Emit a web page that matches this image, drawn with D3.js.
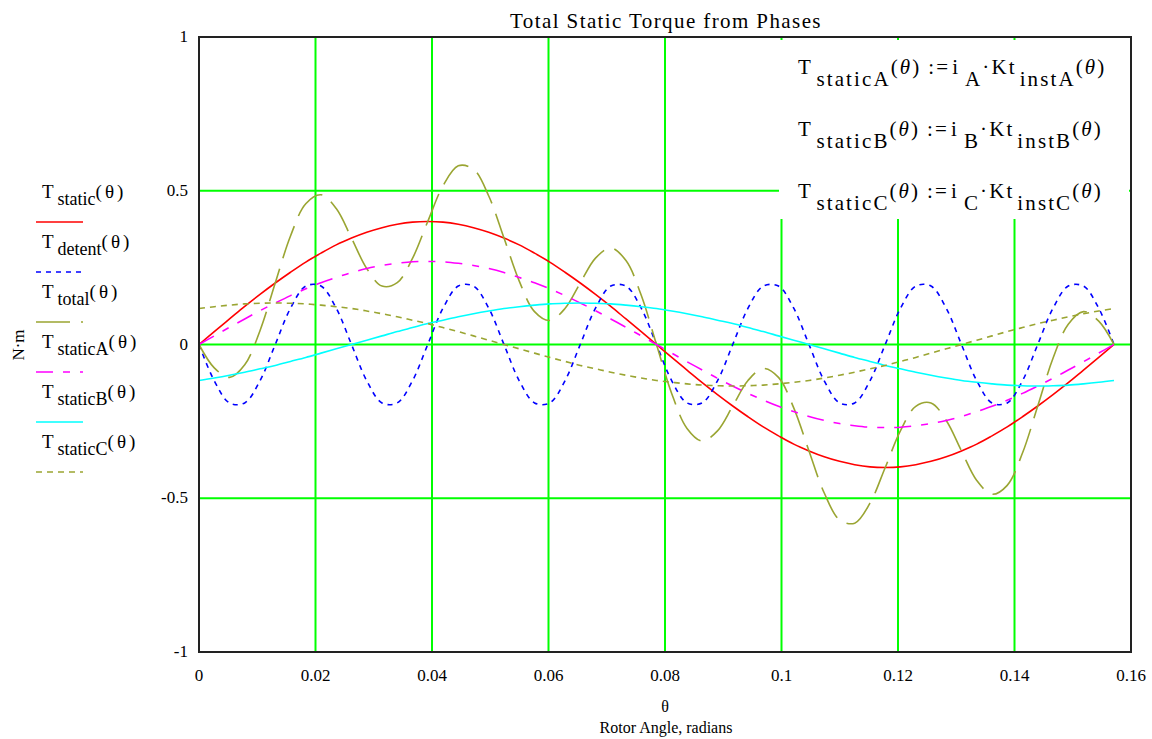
<!DOCTYPE html>
<html>
<head>
<meta charset="utf-8">
<script src="https://d3js.org/d3.v7.min.js"></script>
<style>
  body { margin: 0; background: #fff; }
  text { font-family: "Liberation Serif", "Times New Roman", serif; fill: #000; }
</style>
</head>
<body>
<div id="vis"></div>
<script>
  // rotor angle samples (radians)
  const theta = [0, 0.00262, 0.00524, 0.00785, 0.01047, 0.01309, 0.01571, 0.01833, 0.02094, 0.02356,
    0.02618, 0.0288, 0.03142, 0.03403, 0.03665, 0.03927, 0.04189, 0.04451, 0.04712, 0.04974,
    0.05236, 0.05498, 0.0576, 0.06021, 0.06283, 0.06545, 0.06807, 0.07069, 0.0733, 0.07592,
    0.07854, 0.08116, 0.08378, 0.08639, 0.08901, 0.09163, 0.09425, 0.09687, 0.09948, 0.1021,
    0.10472, 0.10734, 0.10996, 0.11257, 0.11519, 0.11781, 0.12043, 0.12305, 0.12566, 0.12828,
    0.1309, 0.13352, 0.13614, 0.13875, 0.14137, 0.14399, 0.14661, 0.14923, 0.15184, 0.15446, 0.15708]

  const tStatic = [0, .042, .083, .124, .163, .2, .235, .268, .297, .324,
    .346, .365, .380, .391, .398, .4, .398, .391, .380, .365,
    .346, .324, .297, .268, .235, .2, .163, .124, .083, .042,
    0, -.042, -.083, -.124, -.163, -.2, -.235, -.268, -.297, -.324,
    -.346, -.365, -.380, -.391, -.398, -.4, -.398, -.391, -.380, -.365,
    -.346, -.324, -.297, -.268, -.235, -.2, -.163, -.124, -.083, -.042, 0]

  const tDetent = [0, -.118, -.190, -.190, -.118, 0, .118, .190, .190, .118,
    0, -.118, -.190, -.190, -.118, 0, .118, .190, .190, .118,
    0, -.118, -.190, -.190, -.118, 0, .118, .190, .190, .118,
    0, -.118, -.190, -.190, -.118, 0, .118, .190, .190, .118,
    0, -.118, -.190, -.190, -.118, 0, .118, .190, .190, .118,
    0, -.118, -.190, -.190, -.118, 0, .118, .190, .190, .118, 0]

  const tTotal = [0, -.076, -.107, -.066, .045, .2, .353, .458, .487, .442,
    .346, .247, .190, .201, .280, .4, .516, .581, .570, .483,
    .346, .206, .107, .078, .117, .2, .281, .314, .273, .160,
    0, -.160, -.273, -.314, -.281, -.2, -.117, -.078, -.107, -.206,
    -.346, -.483, -.570, -.581, -.516, -.4, -.280, -.201, -.190, -.247,
    -.346, -.442, -.487, -.458, -.353, -.2, -.045, .066, .107, .076, 0]

  const tStaticA = [0, .028, .056, .083, .110, .135, .159, .181, .201, .218,
    .234, .247, .257, .264, .269, .27, .269, .264, .257, .247,
    .234, .218, .201, .181, .159, .135, .110, .083, .056, .028,
    0, -.028, -.056, -.083, -.110, -.135, -.159, -.181, -.201, -.218,
    -.234, -.247, -.257, -.264, -.269, -.27, -.269, -.264, -.257, -.247,
    -.234, -.218, -.201, -.181, -.159, -.135, -.110, -.083, -.056, -.028, 0]

  const tStaticB = [-.117, -.109, -.100, -.090, -.079, -.068, -.055, -.042, -.028, -.014,
    0, .014, .028, .042, .055, .068, .079, .090, .100, .109,
    .117, .123, .128, .132, .134, .135, .134, .132, .128, .123,
    .117, .109, .100, .090, .079, .068, .055, .042, .028, .014,
    0, -.014, -.028, -.042, -.055, -.068, -.079, -.090, -.100, -.109,
    -.117, -.123, -.128, -.132, -.134, -.135, -.134, -.132, -.128, -.123, -.117]

  const tStaticC = [.117, .123, .128, .132, .134, .135, .134, .132, .128, .123,
    .117, .109, .100, .090, .079, .068, .055, .042, .028, .014,
    0, -.014, -.028, -.042, -.055, -.068, -.079, -.090, -.100, -.109,
    -.117, -.123, -.128, -.132, -.134, -.135, -.134, -.132, -.128, -.123,
    -.117, -.109, -.100, -.090, -.079, -.068, -.055, -.042, -.028, -.014,
    0, .014, .028, .042, .055, .068, .079, .090, .100, .109, .117]

  const xTicks = [0, 0.02, 0.04, 0.06, 0.08, 0.1, 0.12, 0.14, 0.16]
  const yTicks = [-1, -0.5, 0, 0.5, 1]

  const legendNames = ['static', 'detent', 'total', 'staticA', 'staticB', 'staticC']
  const colors = ['#ff0000', '#0000ff', '#9aa532', '#ff00ff', '#00ffff', '#9aa532']
  const dashes = [null, '5,5', '34,11', '17,10,7,10', null, '6,5']
  const seriesList = [tStatic, tDetent, tTotal, tStaticA, tStaticB, tStaticC]

  const formulas = [['staticA', 'A', 'instA'], ['staticB', 'B', 'instB'], ['staticC', 'C', 'instC']]

  var svg = d3.select('#vis')
    .append('svg')
    .attr('width', 1152)
    .attr('height', 739)

  var x = d3.scaleLinear().domain([0, 0.16]).range([199, 1131])
  var y = d3.scaleLinear().domain([-1, 1]).range([652, 37])

  // grid
  svg.selectAll('.vgrid')
    .data(xTicks.slice(1, -1))
    .enter()
    .append('line')
    .attr('x1', d => x(d)).attr('x2', d => x(d))
    .attr('y1', y(1)).attr('y2', y(-1))
    .attr('stroke', '#00ff00').attr('stroke-width', 2)

  svg.selectAll('.hgrid')
    .data(yTicks.slice(1, -1))
    .enter()
    .append('line')
    .attr('x1', x(0)).attr('x2', x(0.16))
    .attr('y1', d => y(d)).attr('y2', d => y(d))
    .attr('stroke', '#00ff00').attr('stroke-width', 2)

  // white box behind the formulas
  svg.append('rect')
    .attr('x', 779).attr('y', 40)
    .attr('width', 350).attr('height', 179)
    .attr('fill', '#fff')

  // traces
  seriesList.forEach(function(s, i) {
    var line = d3.line()
      .x((d, j) => x(theta[j]))
      .y(d => y(d))
      .curve(d3.curveCatmullRom.alpha(0.5))
    svg.append('path')
      .datum(s)
      .attr('d', line)
      .attr('fill', 'none')
      .attr('stroke', colors[i])
      .attr('stroke-width', 1.6)
      .attr('stroke-dasharray', dashes[i])
  })

  // frame
  svg.append('rect')
    .attr('x', x(0)).attr('y', y(1))
    .attr('width', x(0.16) - x(0)).attr('height', y(-1) - y(1))
    .attr('fill', 'none')
    .attr('stroke', '#222').attr('stroke-width', 2)

  // tick labels
  svg.selectAll('.xlab')
    .data(xTicks)
    .enter()
    .append('text')
    .attr('x', d => x(d)).attr('y', 681)
    .attr('text-anchor', 'middle')
    .style('font-size', '17px')
    .text(d => d)

  svg.selectAll('.ylab')
    .data(yTicks)
    .enter()
    .append('text')
    .attr('x', 188).attr('y', d => y(d) + 5)
    .attr('text-anchor', 'end')
    .style('font-size', '17px')
    .text(d => d)

  // titles
  svg.append('text')
    .attr('x', 666).attr('y', 28)
    .attr('text-anchor', 'middle')
    .style('font-size', '21px')
    .style('letter-spacing', '1.4px')
    .text('Total Static Torque from Phases')

  svg.append('text')
    .attr('x', 665).attr('y', 712)
    .attr('text-anchor', 'middle')
    .style('font-size', '16px')
    .text('θ')

  svg.append('text')
    .attr('x', 666).attr('y', 733)
    .attr('text-anchor', 'middle')
    .style('font-size', '16px')
    .text('Rotor Angle, radians')

  svg.append('text')
    .attr('transform', 'translate(24,345) rotate(-90)')
    .attr('text-anchor', 'middle')
    .style('font-size', '17px')
    .text('N·m')

  // legend
  legendNames.forEach(function(name, i) {
    var base = 198 + i * 50
    var t = svg.append('text')
      .attr('x', 42).attr('y', base)
      .style('font-size', '19px')
    t.append('tspan').text('T')
    t.append('tspan').attr('dx', 4).attr('dy', 7).style('font-size', '18px').text(name)
    t.append('tspan').attr('dy', -7).style('letter-spacing', '3px').text('(θ)')

    svg.append('line')
      .attr('x1', 36).attr('x2', 83)
      .attr('y1', base + 24).attr('y2', base + 24)
      .attr('stroke', colors[i])
      .attr('stroke-width', 1.6)
      .attr('stroke-dasharray', dashes[i])
  })

  // formula box
  formulas.forEach(function(f, i) {
    var base = 74 + i * 62
    var t = svg.append('text')
      .attr('x', 798).attr('y', base)
      .style('font-size', '21px')
      .style('letter-spacing', '2.1px')
    t.append('tspan').text('T')
    t.append('tspan').attr('dx', 5).attr('dy', 12).text(f[0])
    t.append('tspan').attr('dy', -12).text('(')
    t.append('tspan').style('font-style', 'italic').text('θ')
    t.append('tspan').text(')')
    t.append('tspan').attr('dx', 7).text(':=')
    t.append('tspan').attr('dx', 2).text('i')
    t.append('tspan').attr('dx', 5).attr('dy', 12).text(f[1])
    t.append('tspan').attr('dy', -12).text('·Kt')
    t.append('tspan').attr('dx', 3).attr('dy', 12).text(f[2])
    t.append('tspan').attr('dy', -12).text('(')
    t.append('tspan').style('font-style', 'italic').text('θ')
    t.append('tspan').text(')')
  })
</script>
</body>
</html>
